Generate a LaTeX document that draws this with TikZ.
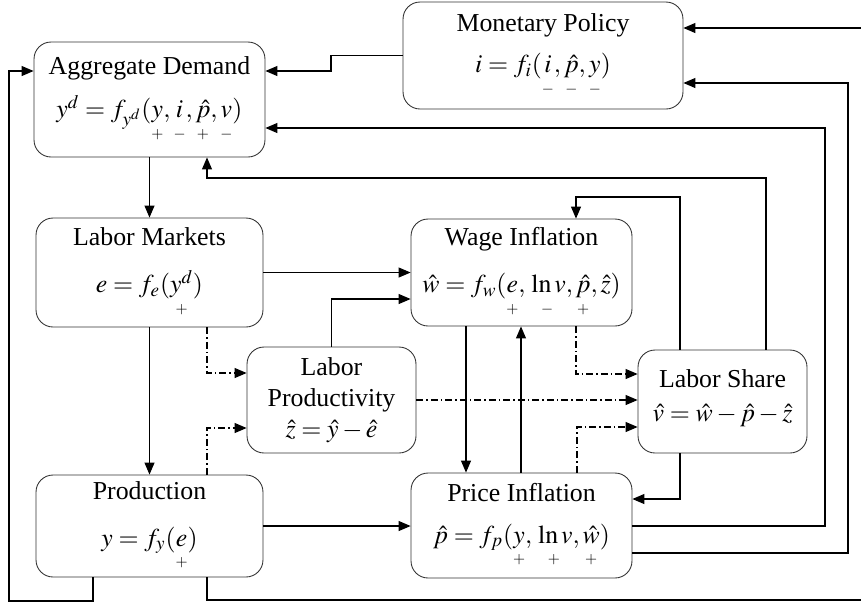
\documentclass[tikz,border=0pt]{standalone}
\usepackage{amsmath}
\usepackage{mathptmx}
\usepackage[no-math]{fontspec}
\setmainfont{Liberation Serif}
\usetikzlibrary{arrows.meta}
\newcommand{\sg}[2]{\underset{\scriptscriptstyle #1}{\vphantom{y}#2}}
\tikzset{
  block/.style={draw=black!80, line width=0.5pt, rounded corners=0.34cm, align=center,
    inner sep=0pt, font=\fontsize{14.7}{17.6}\selectfont},
  dashdot/.style={dash pattern=on 0.14cm off 0.06cm on 0.03cm off 0.06cm},
}
\begin{document}
\begin{tikzpicture}[x=0.02cm, y=-0.02cm, >={Triangle[length=2.4mm,width=2mm]}, line width=0.6pt]
  \useasboundingbox (0,0) rectangle (861,603);
  \begin{scope}[every node/.style=block]
    \node[minimum width=4.62cm, minimum height=2.30cm] (ad) at (149.5,99.5)
      {Aggregate Demand\\[7pt] $y^d = f_{y^d}(\sg{+}{y}, \sg{-}{i}, \sg{+}{\hat{p}}, \sg{-}{v})$};
    \node[minimum width=5.60cm, minimum height=2.14cm] (mp) at (543,55.5)
      {Monetary Policy\\[6pt] $i = f_i(\sg{-}{i}, \sg{-}{\hat{p}}, \sg{-}{y})$};
    \node[minimum width=4.54cm, minimum height=2.18cm] (lm) at (149.5,272.5)
      {Labor Markets\\[9pt] $e = f_e(\sg{+}{y^d})$};
    \node[minimum width=4.42cm, minimum height=2.14cm] (wi) at (521.5,272.5)
      {Wage Inflation\\[9pt] $\hat{w} = f_w(\sg{+}{e}, \sg{-}{\ln v}, \sg{+}{\hat{p}}, \hat{z})$};
    \node[minimum width=3.38cm, minimum height=2.12cm] (lp) at (331.5,400)
      {Labor\\ Productivity\\ $\hat{z} = \hat{y} - \hat{e}$};
    \node[minimum width=3.38cm, minimum height=2.06cm] (ls) at (722.5,401.5)
      {Labor Share\\[2pt] $\hat{v} = \hat{w} - \hat{p} - \hat{z}$\rule[-0.25cm]{0pt}{0pt}};
    \node[minimum width=4.54cm, minimum height=2.04cm] (prod) at (149.5,526)
      {Production\\[9pt] $y = f_y(\sg{+}{e})$};
    \node[minimum width=4.42cm, minimum height=2.10cm] (pi) at (521.5,525.5)
      {Price Inflation\\[6pt] $\hat{p} = f_p(\sg{+}{y}, \sg{+}{\ln v}, \sg{+}{\hat{w}})$};
  \end{scope}
  \coordinate (rin) at (861,28);
  \coordinate (rout) at (861,600);
  \begin{scope}[->]
    % feedback into demand and policy
    \draw (mp.west) -| (331,71) -- (ad.east |- 0,71);
    \draw (rin) -- (mp.east |- rin);
    \draw (pi.east |- 0,553) -| (848,83) -- (mp.east |- 0,83);
    \draw (pi.east |- 0,526) -| (825,128) -- (ad.east |- 0,128);
    \draw (ls.north -| 766,0) |- (207,178) -- (ad.south -| 207,0);
    \draw (ls.north -| 680,0) |- (576,197) -- (wi.north -| 576,0);
    \draw (prod.south -| 93,0) |- (9,601) |- (ad.west |- 0,71);
    \draw[-] (prod.south -| 207,0) |- (rout);
    % main chain
    \draw (ad) -- (lm);
    \draw (lm) -- (prod);
    \draw (lm.east) -- (lm.east -| wi.west);
    \draw (lp.north) |- (wi.west |- 0,299);
    \draw (prod.east) -- (prod.east -| pi.west);
    \draw (wi.south -| 466,0) -- (pi.north -| 466,0);
    \draw (pi.north -| 521,0) -- (wi.south -| 521,0);
    \draw (ls.south -| 680,0) |- (pi.east |- 0,499);
  \end{scope}
  \begin{scope}[->, dashdot]
    \draw (lm.south -| 207,0) |- (lp.west |- 0,373);
    \draw (prod.north -| 207,0) |- (lp.west |- 0,428);
    \draw (lp.east) -- (lp.east -| ls.west);
    \draw (wi.south -| 576,0) |- (ls.west |- 0,374);
    \draw (pi.north -| 577,0) |- (ls.west |- 0,427);
  \end{scope}
\end{tikzpicture}
\end{document}
